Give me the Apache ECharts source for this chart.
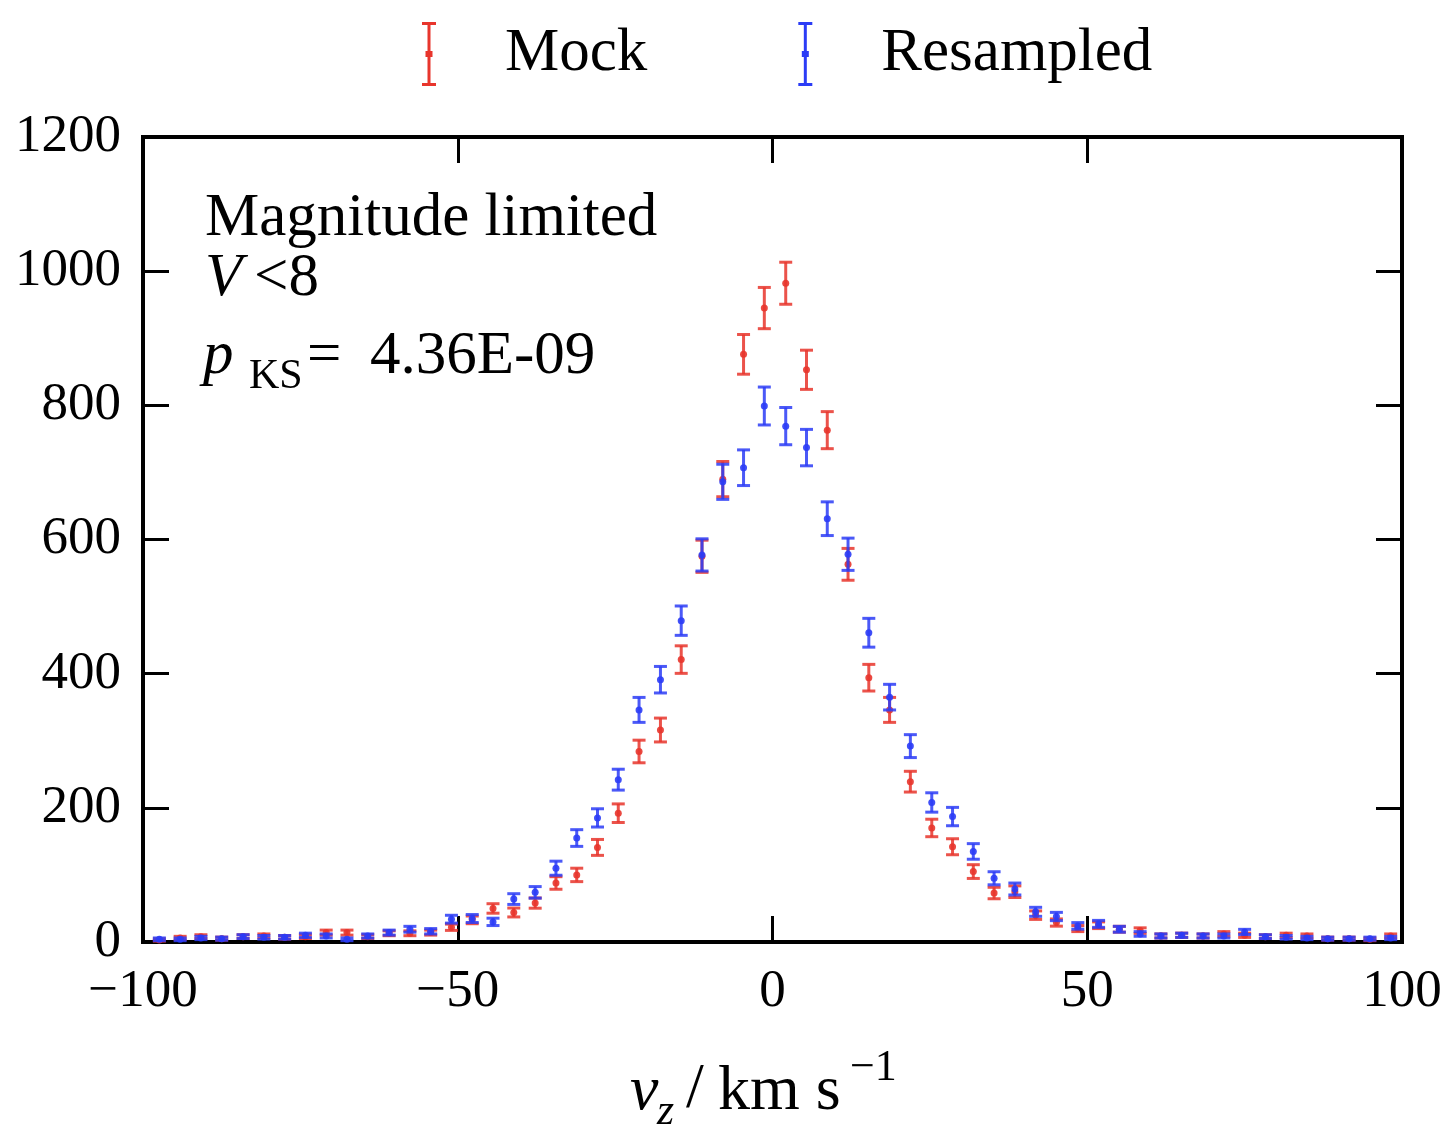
<!DOCTYPE html>
<html><head><meta charset="utf-8">
<script src="https://cdn.jsdelivr.net/npm/echarts@6/dist/echarts.min.js"></script>
<style>html,body{margin:0;padding:0;background:#fff}#c{width:1454px;height:1125px}</style>
</head><body><div id="c"></div>
<script>
// Bin centres (km/s)
const binCenters = [-97.4,-94.1,-90.8,-87.5,-84.1,-80.8,-77.5,-74.2,-70.9,-67.6,
  -64.3,-60.9,-57.6,-54.3,-51.0,-47.7,-44.4,-41.1,-37.7,-34.4,
  -31.1,-27.8,-24.5,-21.2,-17.8,-14.5,-11.2,-7.9,-4.6,-1.3,
  2.1,5.4,8.7,12.0,15.3,18.6,21.9,25.3,28.6,31.9,
  35.2,38.5,41.8,45.1,48.5,51.8,55.1,58.4,61.7,65.0,
  68.4,71.7,75.0,78.3,81.6,84.9,88.2,91.6,94.9,98.2];
// Counts
const mockCounts = [3,6,8,5,8,9,7,8,14,14,
  8,13,13,14,22,33,50,44,58,88,
  100,141,192,284,316,421,575,690,876,945,
  982,853,763,563,394,346,239,170,142,105,
  73,75,40,29,20,25,19,17,9,10,
  9,12,10,8,10,9,5,5,4,9];
const resampledCounts = [4,4,6,5,8,7,7,10,9,4,
  9,14,19,16,34,35,30,64,74,110,
  155,185,242,346,391,479,577,686,707,799,
  769,737,631,578,461,365,292,208,187,135,
  95,79,45,38,24,27,19,12,9,10,
  9,9,15,8,7,6,5,5,5,6];
const seriesNames = ['Mock', 'Resampled'];
const xTickInterval = 50;
const yTickInterval = 200;

const RED = '#e8352c';
const BLUE = '#2b3cf6';
const SERIF = "'Liberation Serif', 'DejaVu Serif', serif";

function build(counts) {
  // Poisson error bars: sqrt(N)
  return binCenters.map((x, i) => [x, counts[i], Math.sqrt(counts[i])]);
}

function makeRender(color) {
  return function (params, api) {
    const x = api.value(0), y = api.value(1), e = api.value(2);
    const pc = api.coord([x, y]);
    const pt = api.coord([x, y + e]);
    const pb = api.coord([x, y - e]);
    const hw = 6.5;
    const st = { stroke: color, lineWidth: 3, opacity: 0.85 };
    return {
      type: 'group',
      children: [
        { type: 'line', shape: { x1: pc[0], y1: pt[1], x2: pc[0], y2: pb[1] }, style: st },
        { type: 'line', shape: { x1: pc[0] - hw, y1: pt[1], x2: pc[0] + hw, y2: pt[1] }, style: st },
        { type: 'line', shape: { x1: pc[0] - hw, y1: pb[1], x2: pc[0] + hw, y2: pb[1] }, style: st },
        { type: 'circle', shape: { cx: pc[0], cy: pc[1], r: 3.5 }, style: { fill: color, opacity: 0.9 } }
      ]
    };
  };
}

const fmtX = v => (v < 0 ? '\u2212' + Math.abs(v) : String(v));
const fmtY = v => String(v);
const tickStyle = { inside: true, length: 26, lineStyle: { color: '#000', width: 3 } };
const noLine = { show: false, onZero: false };

const errIcon = 'path://M0,0H14V3H8.5V29H10.5V35H8.5V61H14V64H0V61H5.5V35H3.5V29H5.5V3H0Z';

const chart = echarts.init(document.getElementById('c'), null, { renderer: 'canvas' });
chart.setOption({
  animation: false,
  backgroundColor: '#fff',
  grid: { left: 143, right: 52, top: 137, bottom: 183, show: true, borderColor: '#000', borderWidth: 4, backgroundColor: 'transparent' },
  legend: {
    data: seriesNames.map((n, i) => ({ name: n, icon: errIcon, itemStyle: { color: i === 0 ? RED : BLUE } })),
    left: 417, top: 17, itemWidth: 14, itemHeight: 64, itemGap: 151,
    textStyle: { fontFamily: SERIF, fontSize: 61, color: '#000', padding: [0, 0, 0, 64] }
  },
  xAxis: [
    { type: 'value', min: -100, max: 100, interval: xTickInterval, position: 'bottom',
      axisLine: noLine, axisTick: tickStyle, splitLine: { show: false },
      axisLabel: { fontFamily: SERIF, fontSize: 53, color: '#000', margin: 24, formatter: fmtX } },
    { type: 'value', min: -100, max: 100, interval: xTickInterval, position: 'top',
      axisLine: noLine, axisTick: tickStyle, splitLine: { show: false }, axisLabel: { show: false } }
  ],
  yAxis: [
    { type: 'value', min: 0, max: 1200, interval: yTickInterval, position: 'left',
      axisLine: noLine, axisTick: tickStyle, splitLine: { show: false },
      axisLabel: { fontFamily: SERIF, fontSize: 53, color: '#000', margin: 22, formatter: fmtY } },
    { type: 'value', min: 0, max: 1200, interval: yTickInterval, position: 'right',
      axisLine: noLine, axisTick: tickStyle, splitLine: { show: false }, axisLabel: { show: false } }
  ],
  series: [
    { name: seriesNames[0], type: 'custom', renderItem: makeRender(RED), itemStyle: { color: RED },
      encode: { x: 0, y: 1 }, data: build(mockCounts), z: 3 },
    { name: seriesNames[1], type: 'custom', renderItem: makeRender(BLUE), itemStyle: { color: BLUE },
      encode: { x: 0, y: 1 }, data: build(resampledCounts), z: 4 }
  ],
  graphic: [
    { type: 'text', left: 205, top: 188, style: { text: 'Magnitude limited', font: '61px ' + SERIF, fill: '#000' } },
    { type: 'text', left: 205, top: 248, style: { text: 'V', font: 'italic 61px ' + SERIF, fill: '#000' } },
    { type: 'text', left: 254, top: 248, style: { text: '<8', font: '61px ' + SERIF, fill: '#000' } },
    { type: 'text', left: 203, top: 326, style: { text: 'p', font: 'italic 61px ' + SERIF, fill: '#000' } },
    { type: 'text', left: 249, top: 356, style: { text: 'KS', font: '42px ' + SERIF, fill: '#000' } },
    { type: 'text', left: 307, top: 326, style: { text: '=', font: '61px ' + SERIF, fill: '#000' } },
    { type: 'text', left: 370, top: 326, style: { text: '4.36E-09', font: '61px ' + SERIF, fill: '#000' } },
    { type: 'text', left: 630, top: 1060, style: { text: 'v', font: 'italic 64px ' + SERIF, fill: '#000' } },
    { type: 'text', left: 657, top: 1090, style: { text: 'z', font: 'italic 44px ' + SERIF, fill: '#000' } },
    { type: 'text', left: 686, top: 1058, style: { text: '/', font: '64px ' + SERIF, fill: '#000' } },
    { type: 'text', left: 718, top: 1060, style: { text: 'km s', font: '64px ' + SERIF, fill: '#000' } },
    { type: 'text', left: 850, top: 1046, style: { text: '\u22121', font: '44px ' + SERIF, fill: '#000' } }
  ]
});
</script></body></html>
